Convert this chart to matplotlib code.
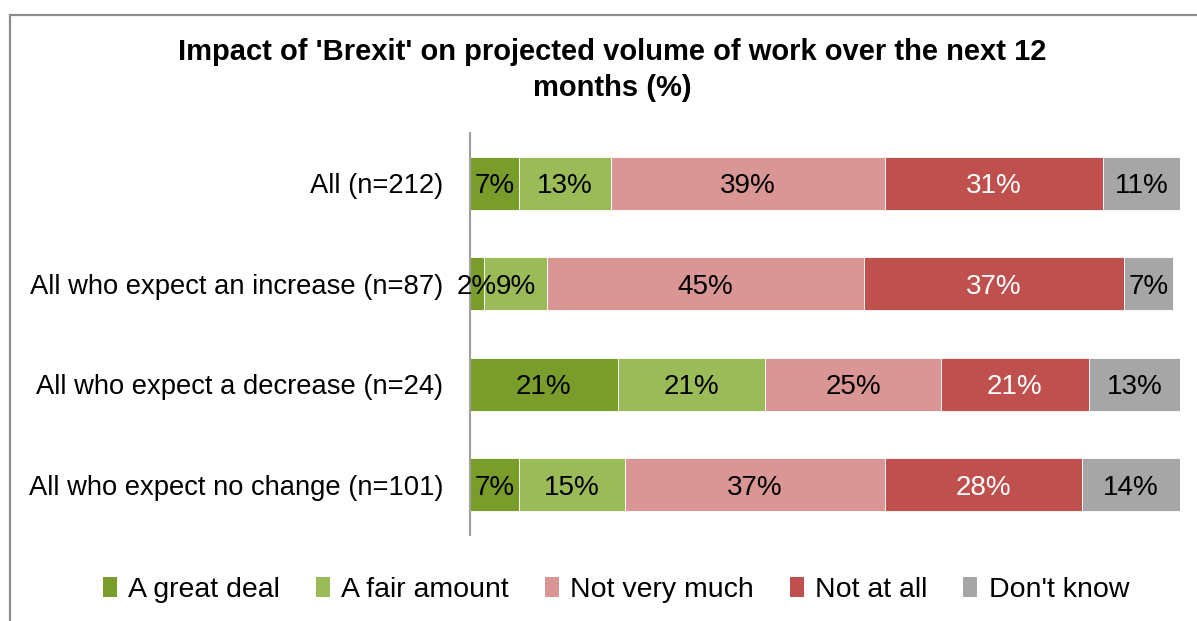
import matplotlib
matplotlib.use("Agg")
import matplotlib.pyplot as plt
from matplotlib.patches import Rectangle, Patch

plt.rcParams['font.family'] = ['Liberation Sans', 'DejaVu Sans']

categories = ["All (n=212)",
              "All who expect an increase (n=87)",
              "All who expect a decrease (n=24)",
              "All who expect no change (n=101)"]
series = ["A great deal", "A fair amount", "Not very much", "Not at all", "Don't know"]
values = {
    "A great deal":  [7, 2, 21, 7],
    "A fair amount": [13, 9, 21, 15],
    "Not very much": [39, 45, 25, 37],
    "Not at all":    [31, 37, 21, 28],
    "Don't know":    [11, 7, 13, 14],
}
colors = ["#7A9C2A", "#9BBB59", "#D99694", "#C0504D", "#A6A6A6"]
text_colors = ["black", "black", "black", "white", "black"]
title = "Impact of 'Brexit' on projected volume of work over the next 12\nmonths (%)"

W, H = 1197, 621
fig = plt.figure(figsize=(W / 100, H / 100), dpi=100)

# outer chart frame
fig.patches.append(Rectangle((9.5 / W, -0.05), 1.2, 1 - 14.5 / H + 0.05,
                             transform=fig.transFigure, fill=False,
                             edgecolor="#8C8C8C", linewidth=1.6, zorder=0))

ax = fig.add_axes([470 / W, 1 - 535 / H, (1180 - 470) / W, (535 - 133) / H])

ypos = list(range(len(categories)))
left = [0] * len(categories)
for s, col, tcol in zip(series, colors, text_colors):
    vals = values[s]
    ax.barh(ypos, vals, left=left, height=0.53, color=col,
            edgecolor="white", linewidth=0.6, label=s)
    for y, v, l in zip(ypos, vals, left):
        ax.text(l + v / 2, y, f"{v}%", ha="center", va="center_baseline",
                fontsize=20, color=tcol)
    left = [l + v for l, v in zip(left, vals)]

ax.set_xlim(0, 101)
ax.set_ylim(len(categories) - 0.5, -0.5)
ax.set_yticks(ypos)
ax.set_yticklabels(categories, fontsize=19.7, va="center_baseline")
ax.tick_params(axis="y", length=0, pad=19)
ax.set_xticks([])
for side in ["top", "right", "bottom"]:
    ax.spines[side].set_visible(False)
ax.spines["left"].set_color("#A0A0A0")
ax.spines["left"].set_linewidth(1.5)

fig.text(612 / W, 1 - 70 / H, title, ha="center", va="center",
         fontsize=21, fontweight="bold", linespacing=1.32)

handles = [Patch(facecolor=c, edgecolor="none", label=s) for s, c in zip(series, colors)]
fig.legend(handles=handles, loc="center", bbox_to_anchor=(616 / W, 1 - 590 / H),
           ncol=5, frameon=False, fontsize=20.5, handlelength=0.5, handleheight=0.7,
           handletextpad=0.4, columnspacing=1.25)

fig.savefig("out.png", dpi=100)
